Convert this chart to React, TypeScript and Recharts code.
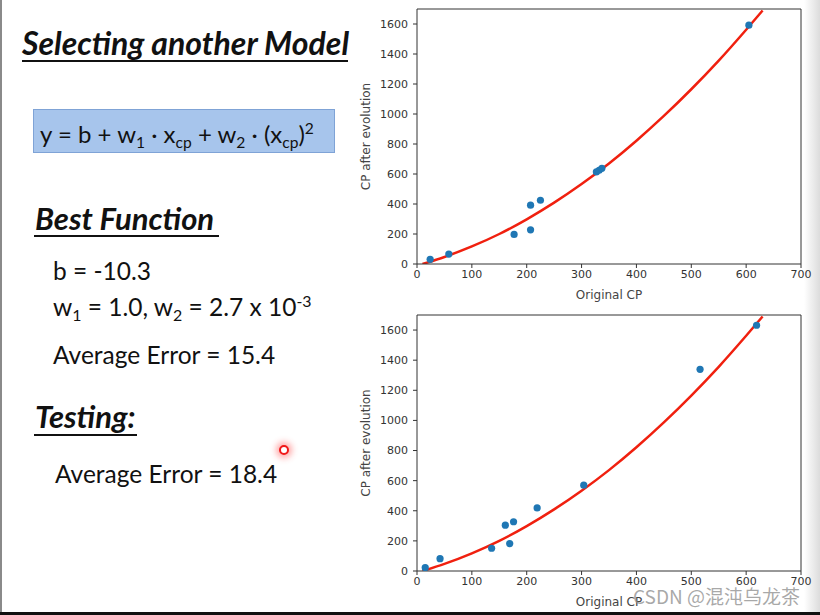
import React from 'react';
import { ComposedChart, Line, Scatter, XAxis, YAxis } from 'recharts';

// Training data (top plot)
const trainCP = [24, 58, 177, 207, 207, 225, 327, 332, 337, 605];
const trainEvolved = [31, 66, 197, 392, 228, 425, 614, 625, 638, 1592];

// Testing data (bottom plot)
const testCP = [15, 42, 136, 161, 176, 169, 219, 304, 516, 619];
const testEvolved = [22, 82, 151, 304, 327, 182, 419, 570, 1339, 1632];

// Fitted curve
const curveCP = [10, 50, 100, 150, 200, 250, 300, 350, 400, 450, 500, 550, 600, 630];
const curveEvolved = [0, 47, 117, 200, 298, 409, 533, 670, 822, 987, 1165, 1356, 1562, 1690];

const xTicks = [0, 100, 200, 300, 400, 500, 600, 700];
const yTicks = [0, 200, 400, 600, 800, 1000, 1200, 1400, 1600];

const zip = (xs: number[], ys: number[]) => xs.map((x, i) => ({ x, y: ys[i] }));
const trainData = zip(trainCP, trainEvolved);
const testData = zip(testCP, testEvolved);
const curveData = zip(curveCP, curveEvolved);

const axisColor = '#333';
const tickStyle = { fontSize: 11, fill: '#333', fontFamily: 'DejaVu Sans' };
const labelStyle = { fontSize: 12, fill: '#444', fontFamily: 'DejaVu Sans' };

const Dot = (p: any) => <circle cx={p.cx} cy={p.cy} r={3.6} fill="#1f77b4" />;

const FitPanel = ({ points, top, height }: { points: { x: number; y: number }[]; top: number; height: number }) => (
  <div style={{ position: 'absolute', left: 357, top }}>
    <ComposedChart width={463} height={height} margin={{ top: 4, right: 14, bottom: 0, left: 0 }}>
      <XAxis
        xAxisId="b" type="number" dataKey="x" domain={[0, 700]} ticks={xTicks}
        stroke={axisColor} tickSize={4} tick={tickStyle} height={41}
        label={{ value: 'Original CP', position: 'insideBottom', offset: 6, style: labelStyle }}
      />
      <XAxis
        xAxisId="t" orientation="top" type="number" dataKey="x" domain={[0, 700]} ticks={xTicks}
        stroke={axisColor} tickSize={4} tickFormatter={() => ''} height={5}
      />
      <YAxis
        yAxisId="l" type="number" domain={[0, 1700]} ticks={yTicks} allowDataOverflow
        stroke={axisColor} tickSize={4} tick={{ ...tickStyle, dx: -3 }} width={60}
        label={{ value: 'CP after evolution', angle: -90, position: 'insideLeft', offset: 9, style: { ...labelStyle, textAnchor: 'middle' } }}
      />
      <YAxis
        yAxisId="r" orientation="right" type="number" domain={[0, 1700]} ticks={yTicks}
        stroke={axisColor} tickSize={4} tickFormatter={() => ''} width={5}
      />
      <Line
        xAxisId="b" yAxisId="l" data={curveData} dataKey="y" type="monotone"
        stroke="#f0200f" strokeWidth={2.5} dot={false} isAnimationActive={false}
      />
      <Scatter
        xAxisId="b" yAxisId="l" data={points} dataKey="y" shape={Dot} isAnimationActive={false}
      />
    </ComposedChart>
  </div>
);

const slideFont = 'Lato, "Open Sans", sans-serif';
const abs = (left: number, top: number, extra: React.CSSProperties = {}): React.CSSProperties => ({
  position: 'absolute', left, top, whiteSpace: 'nowrap', fontFamily: slideFont, color: '#111', ...extra,
});
const heading: React.CSSProperties = { fontWeight: 700, fontStyle: 'italic', fontSize: 31 };
const body: React.CSSProperties = { fontSize: 24.5 };
const subS: React.CSSProperties = { fontSize: '0.65em', verticalAlign: '-0.3em', lineHeight: 0 };
const supS: React.CSSProperties = { fontSize: '0.65em', verticalAlign: '0.55em', lineHeight: 0 };

export default function App() {
  return (
    <div style={{ position: 'absolute', left: 0, top: 0, width: 820, height: 615, background: '#fff', overflow: 'hidden' }}>
      {/* slide border hints */}
      <div style={{ position: 'absolute', left: 0, top: 0, width: 2, height: 615, background: '#8a8a8a' }} />
      <div style={{ position: 'absolute', left: 0, top: 612, width: 820, height: 3, background: '#111' }} />
      <div style={{ position: 'absolute', left: 804, top: 0, width: 16, height: 612, background: 'linear-gradient(to right, rgba(255,255,255,0), #dcdcdc)' }} />

      <div style={abs(22, 23, { ...heading, fontSize: 32 })}>Selecting another Model</div>
      <div style={{ position: 'absolute', left: 22, top: 60, width: 326, height: 2, background: '#111' }} />

      <div style={{ position: 'absolute', left: 33, top: 109, width: 300, height: 42, background: '#a7c5ec', border: '1px solid #7fa3d6' }} />
      <div style={abs(40, 119, { fontSize: 24 })}>
        y = b + w<span style={subS}>1</span> · x<span style={subS}>cp</span> + w<span style={subS}>2</span> · (x<span style={subS}>cp</span>)<span style={supS}>2</span>
      </div>

      <div style={abs(35, 199, heading)}>Best Function</div>
      <div style={{ position: 'absolute', left: 34, top: 235, width: 185, height: 2, background: '#111' }} />

      <div style={abs(53, 256, body)}>b = -10.3</div>
      <div style={abs(53, 292, body)}>
        w<span style={subS}>1</span> = 1.0, w<span style={subS}>2</span> = 2.7 x 10<span style={supS}>-3</span>
      </div>
      <div style={abs(53, 340, body)}>Average Error = 15.4</div>

      <div style={abs(35, 397, heading)}>Testing:</div>
      <div style={{ position: 'absolute', left: 34, top: 434, width: 103, height: 2, background: '#111' }} />

      <div style={abs(55, 459, body)}>Average Error = 18.4</div>

      {/* laser pointer */}
      <div style={{ position: 'absolute', left: 279, top: 445, width: 6, height: 6, borderRadius: '50%', border: '2px solid #f01818', background: '#fff', boxShadow: '0 0 6px 3px rgba(255,60,60,0.45)' }} />

      <FitPanel points={trainData} top={0} height={305} />
      <FitPanel points={testData} top={306} height={306} />

      <div style={abs(633, 582, { fontFamily: '"Noto Sans CJK SC", sans-serif', fontSize: 19, color: 'rgba(140,140,140,0.75)' })}>
        CSDN @混沌乌龙茶
      </div>
    </div>
  );
}
